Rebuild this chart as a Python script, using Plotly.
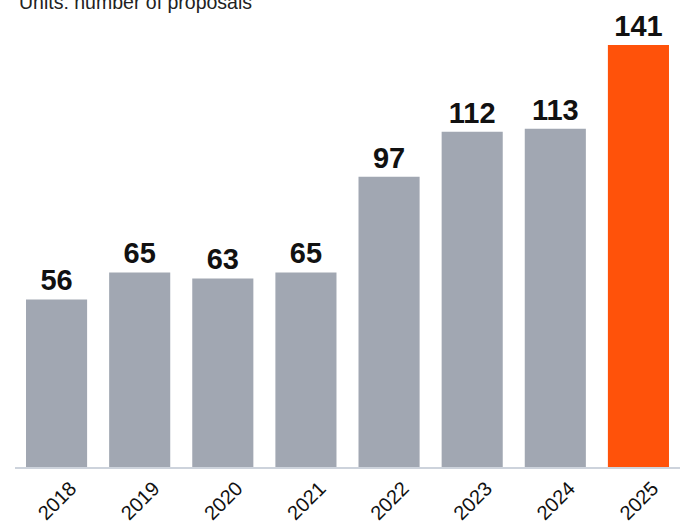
import plotly.graph_objects as go

years = ["2018", "2019", "2020", "2021", "2022", "2023", "2024", "2025"]
proposals = [56, 65, 63, 65, 97, 112, 113, 141]
colors = ["#A1A7B2"] * 7 + ["#FF520A"]
title_text = "Units: number of proposals"

fig = go.Figure(go.Bar(
    x=years, y=proposals, marker_color=colors, marker_line_width=0,
    text=[str(v) for v in proposals], textposition="outside",
    textfont=dict(family="Liberation Sans", size=29, color="#111111", weight="bold"),
    cliponaxis=False, constraintext="none",
))

fig.update_layout(
    width=683, height=527,
    margin=dict(l=15, r=3, t=20, b=60),
    paper_bgcolor="white", plot_bgcolor="white",
    bargap=0.265,
    showlegend=False,
    font=dict(family="Liberation Sans", color="#111111"),
    annotations=[dict(
        text=title_text, xref="paper", yref="paper", x=0, y=1.0,
        xanchor="left", yanchor="bottom", showarrow=False, xshift=2, yshift=5,
        font=dict(family="Liberation Sans", size=19.5, color="#222222"),
    )],
)
fig.update_xaxes(
    type="category", tickangle=-45, showgrid=False, showline=True,
    linecolor="#CDD3DC", linewidth=1.5, ticks="",
    tickfont=dict(family="Liberation Sans", size=20, color="#111111"),
    ticklabelshift=14,
)
fig.update_yaxes(range=[0, 149.35], visible=False, showgrid=False, zeroline=False)

fig.write_html("out.html")
